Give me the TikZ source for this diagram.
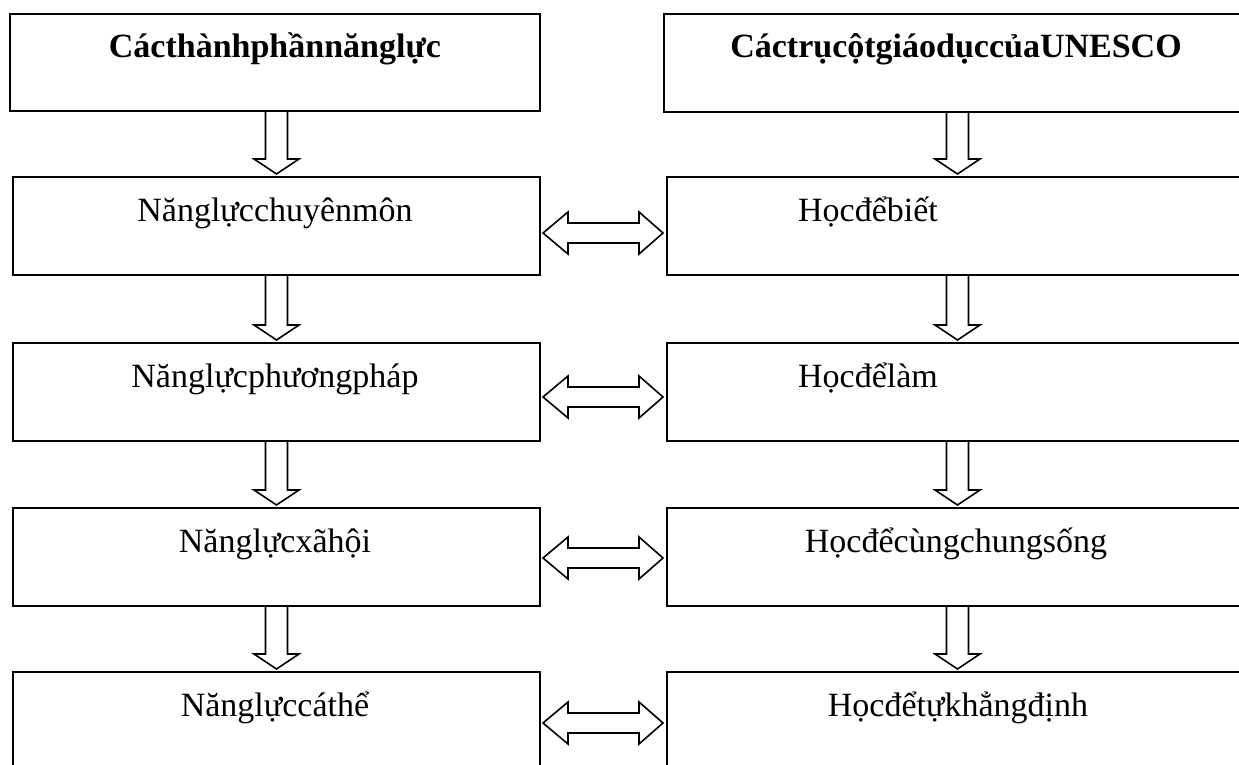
\documentclass[tikz,border=0pt]{standalone}
\usepackage{fontspec}
\setmainfont{Liberation Serif}
\usetikzlibrary{calc}

\tikzset{
  box/.style={draw, line width=1.8pt, rectangle, inner sep=0pt, outer sep=0pt},
  lbl/.style={anchor=base, inner sep=0pt, font=\fontsize{34}{40}\selectfont},
  hdr/.style={anchor=base, inner sep=0pt, font=\fontsize{34}{40}\selectfont\bfseries},
  blockarrow/.style={draw, line width=1.6pt, line join=miter},
}

% hollow block arrow pointing down from box #1 into box #2
\newcommand\downblock[2]{%
  \draw[blockarrow]
    ($(#2.north |- #1.south)+(-11,0)$) -- ($(#2.north)+(-11,-18)$)
    -- ($(#2.north)+(-22.5,-18)$) -- ($(#2.north)+(0,-3)$)
    -- ($(#2.north)+(22.5,-18)$) -- ($(#2.north)+(11,-18)$)
    -- ($(#2.north |- #1.south)+(11,0)$);}

% hollow two-headed block arrow between box #1 and box #2, shifted by #3
\newcommand\sideblock[3]{%
  \draw[blockarrow]
    ($(#1.east)+(3,#3)$) -- ($(#1.east)+(28,#3-21)$) -- ($(#1.east)+(28,#3-10)$)
    -- ($(#2.west)+(-28,#3-10)$) -- ($(#2.west)+(-28,#3-21)$) -- ($(#2.west)+(-4,#3)$)
    -- ($(#2.west)+(-28,#3+21)$) -- ($(#2.west)+(-28,#3+10)$)
    -- ($(#1.east)+(28,#3+10)$) -- ($(#1.east)+(28,#3+21)$) -- cycle;}

\begin{document}
\begin{tikzpicture}[x=1pt, y=-1pt]
  \useasboundingbox (0,0) rectangle (1239,765);
  \clip (0,0) rectangle (1239,765);

  % column headers
  \node[box, minimum width=530pt, minimum height=97pt] (h1) at (275,62.5) {};
  \node[box, minimum width=584pt, minimum height=98pt] (h2) at (956,63) {};
  \node[hdr] (h1t) at (275,58) {Cácthànhphầnnănglực};
  \node[hdr] (h2t) at (956,58) {CáctrụcộtgiáodụccủaUNESCO};

  % left column
  \node[box, minimum width=527pt, minimum height=98pt] (l1) at (276.5,226) {};
  \node[box, minimum width=527pt, minimum height=98pt] (l2) at (276.5,392) {};
  \node[box, minimum width=527pt, minimum height=98pt] (l3) at (276.5,557) {};
  \node[box, minimum width=527pt, minimum height=98pt] (l4) at (276.5,721) {};
  \node[lbl] (l1t) at (275,221) {Nănglựcchuyênmôn};
  \node[lbl] (l2t) at (275,387) {Nănglựcphươngpháp};
  \node[lbl] (l3t) at (275,552) {Nănglựcxãhội};
  \node[lbl] (l4t) at (275,716) {Nănglựccáthể};

  % right column
  \node[box, minimum width=581pt, minimum height=98pt] (r1) at (957.5,226) {};
  \node[box, minimum width=581pt, minimum height=98pt] (r2) at (957.5,392) {};
  \node[box, minimum width=581pt, minimum height=98pt] (r3) at (957.5,557) {};
  \node[box, minimum width=581pt, minimum height=98pt] (r4) at (957.5,721) {};
  \node[lbl] (r1t) at (868,221) {Họcđểbiết};
  \node[lbl] (r2t) at (868,387) {Họcđểlàm};
  \node[lbl] (r3t) at (956,552) {Họcđểcùngchungsống};
  \node[lbl] (r4t) at (958,716) {Họcđểtựkhẳngđịnh};

  % vertical flow
  \downblock{h1}{l1}
  \downblock{l1}{l2}
  \downblock{l2}{l3}
  \downblock{l3}{l4}
  \downblock{h2}{r1}
  \downblock{r1}{r2}
  \downblock{r2}{r3}
  \downblock{r3}{r4}

  % correspondences
  \sideblock{l1}{r1}{7}
  \sideblock{l2}{r2}{5}
  \sideblock{l3}{r3}{1}
  \sideblock{l4}{r4}{2}
\end{tikzpicture}
\end{document}
